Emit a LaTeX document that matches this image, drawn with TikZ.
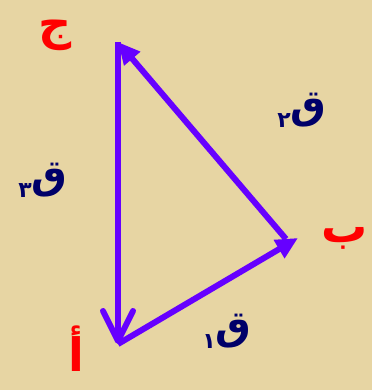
\documentclass[tikz,border=0pt]{standalone}
\usepackage{fontspec}
\newfontfamily\arabicfont[Script=Arabic]{DejaVu Sans}
\TeXXeTstate=1
\usetikzlibrary{arrows.meta}
\definecolor{paper}{RGB}{231,213,163}
\definecolor{vecpurple}{RGB}{102,0,255}
\definecolor{navy}{RGB}{0,0,105}
\newcommand{\qlabel}[1]{\arabicfont\bfseries\beginR ق\raisebox{-0.4ex}{\fontsize{22}{22}\selectfont #1}\endR}
\begin{document}
\begin{tikzpicture}[x=1pt, y=-1pt,
        vec/.style={draw=vecpurple, line width=6pt, -{Triangle[length=22pt, width=20pt]}},
        vecopen/.style={draw=vecpurple, line width=6pt, -{Straight Barb[length=30pt, width=30pt, line width=6pt, round]}},
        corner/.style={text=red, inner sep=0pt, font=\fontsize{46}{46}\selectfont\arabicfont\bfseries},
        force/.style={text=navy, inner sep=0pt, font=\fontsize{40}{40}\selectfont}]
    % parchment background
    \fill[paper] (0,0) rectangle (372,390);
    \useasboundingbox (0,0) rectangle (372,390);
    % triangle corners
    \coordinate (A) at (118,344);
    \coordinate (B) at (298,238);
    \coordinate (J) at (118,42);
    \draw[vec] (A) -- (B);
    \draw[vec] ([xshift=-12pt, yshift=-1pt]B) -- (J);
    \draw[vecopen] (J) -- (A);
    % corner letters
    \node[corner] (labJ) at (55,35) {\beginR ج\endR};
    \node[corner] (labB) at (345,238) {\beginR ب\endR};
    \node[corner] (labA) at (76,349) {\beginR أ\endR};
    % forces
    \node[force] (q2) at (302,110) {\qlabel{٢}};
    \node[force] (q3) at (43,180) {\qlabel{٣}};
    \node[force] (q1) at (227,331) {\qlabel{١}};
\end{tikzpicture}
\end{document}
